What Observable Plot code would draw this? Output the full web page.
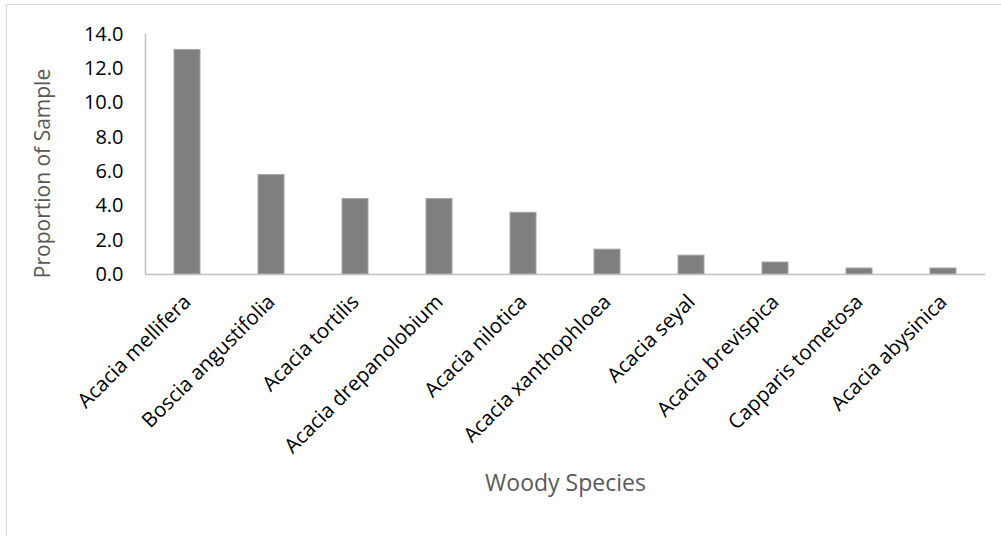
<!DOCTYPE html>
<html>
<head>
<meta charset="utf-8">
<script src="https://cdn.jsdelivr.net/npm/d3@7"></script>
<script src="https://cdn.jsdelivr.net/npm/@observablehq/plot@0.6"></script>
<style>
  html, body { margin: 0; padding: 0; background: #fff; }
  #wrap { position: relative; width: 1001px; height: 536px; overflow: hidden; }
  #border { position: absolute; left: 6px; top: 4px; width: 1010px; height: 560px; border: 1.5px solid #d9d9d9; box-sizing: border-box; pointer-events: none; }
  svg { position: absolute; left: 0; top: 0; }
</style>
</head>
<body>
<div id="wrap"><div id="border"></div></div>
<script>
const species = [
  "Acacia mellifera", "Boscia angustifolia", "Acacia tortilis", "Acacia drepanolobium",
  "Acacia nilotica", "Acacia xanthophloea", "Acacia seyal", "Acacia brevispica",
  "Capparis tometosa", "Acacia abysinica"
];
const proportion = [13.1, 5.8, 4.4, 4.4, 3.6, 1.45, 1.1, 0.7, 0.35, 0.35];
const yTicks = [0, 2, 4, 6, 8, 10, 12, 14];
const xTitle = "Woody Species";
const yTitle = "Proportion of Sample";

const data = species.map((s, i) => ({species: s, value: proportion[i]}));
const font = "'Open Sans', sans-serif";

const chart = Plot.plot({
  width: 1001,
  height: 536,
  marginLeft: 145,
  marginRight: 16,
  marginTop: 34,
  marginBottom: 262,
  style: {fontFamily: font, background: "transparent", overflow: "visible"},
  x: {domain: species, paddingInner: 0.69, paddingOuter: 0.345, align: 0.5},
  y: {domain: [0, 14]},
  marks: [
    Plot.barY(data, {x: "species", y: "value", fill: "#7f7f7f", stroke: "#a6a6a6", strokeWidth: 1}),
    Plot.frame({anchor: "left", stroke: "#bfbfbf", strokeWidth: 1.5}),
    Plot.ruleY([0], {stroke: "#bfbfbf", strokeWidth: 1.5}),
    Plot.axisY({ticks: yTicks, tickFormat: d3.format(".1f"), tickSize: 0, tickPadding: 22, fontSize: 20, color: "#000", label: null}),
    Plot.axisX({tickRotate: -45, tickSize: 0, tickPadding: 24, fontSize: 20.5, color: "#000", label: null}),
    Plot.text([xTitle], {frameAnchor: "bottom", dy: 216, fontSize: 23, fill: "#595959", text: d => d}),
    Plot.text([yTitle], {frameAnchor: "left", textAnchor: "middle", dx: -102, dy: 19, rotate: -90, fontSize: 21, fill: "#595959", text: d => d})
  ]
});
document.getElementById("wrap").appendChild(chart);
</script>
</body>
</html>
